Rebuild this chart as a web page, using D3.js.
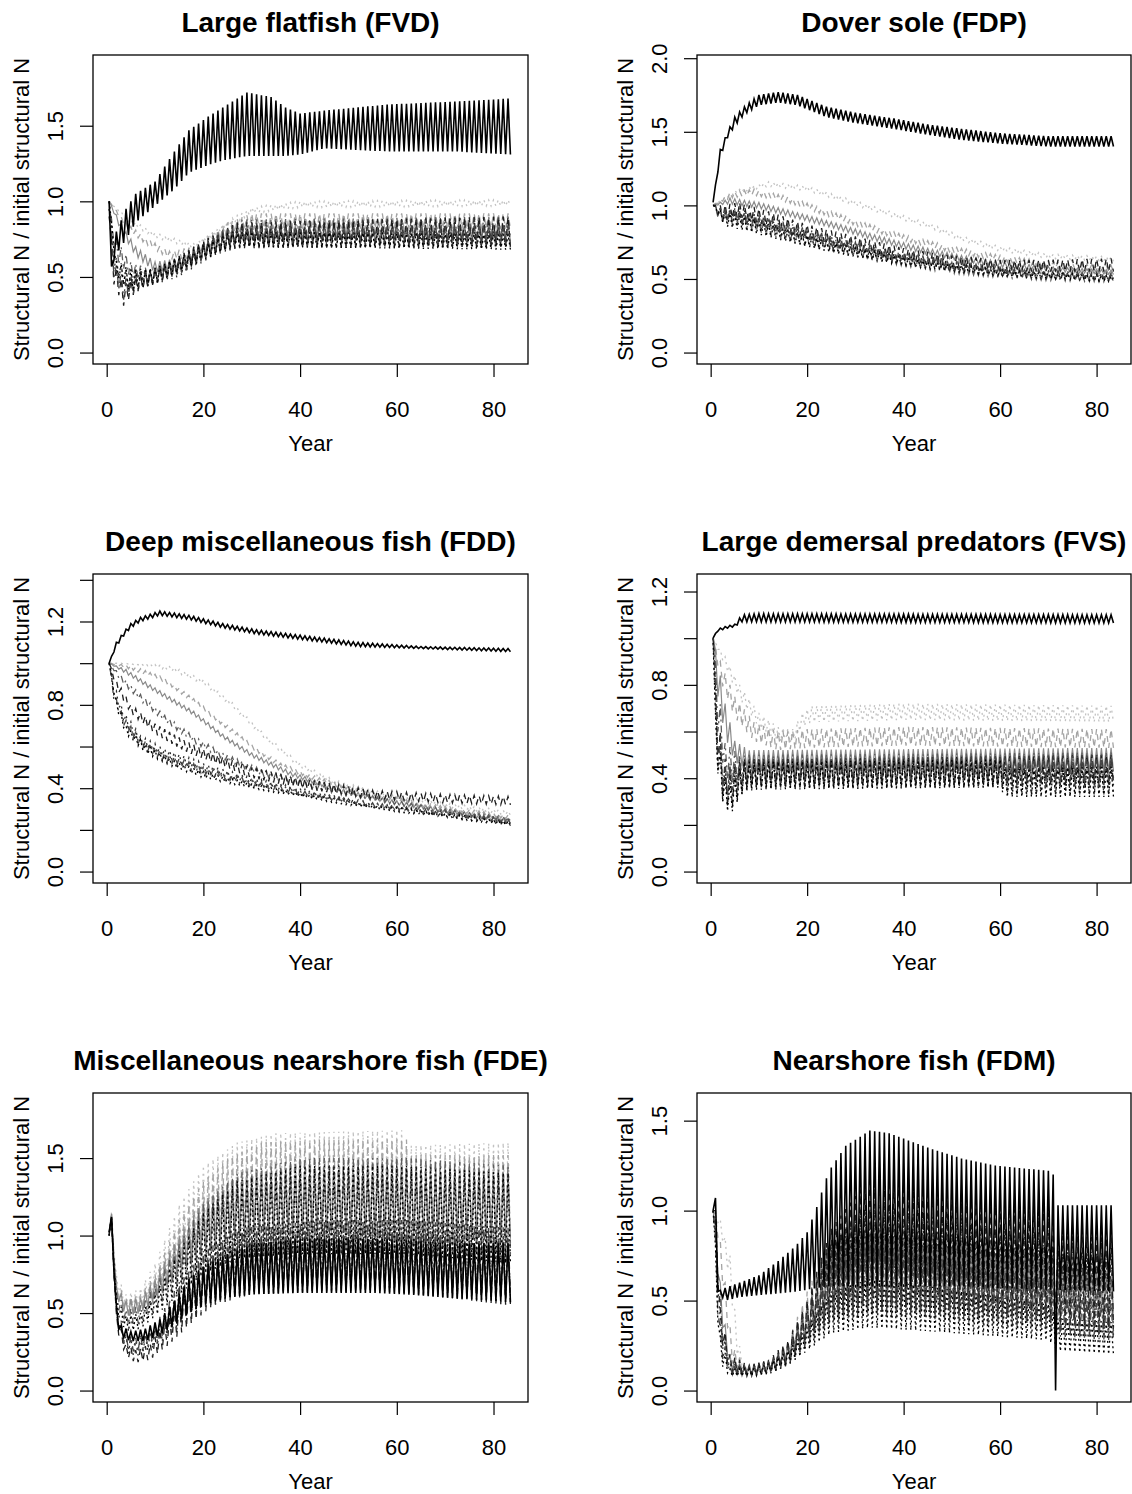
<!DOCTYPE html>
<html>
<head>
<meta charset="utf-8">
<script src="https://cdn.jsdelivr.net/npm/d3@7"></script>
<style>
  body { margin: 0; background: #fff; }
  svg { display: block; }
  text { font-family: "Liberation Sans", Arial, Helvetica, sans-serif; fill: #000; }
</style>
</head>
<body>
<svg id="chart" width="1132" height="1494"></svg>
<script>
// ---------------------------------------------------------------------------
// Data: structural N relative to initial structural N, per functional group.
// Each run is a list of [year, seasonal trough, seasonal peak] read at key
// years; runs are listed in the order of runStyles below
// (base run first, then the fishing scenarios).
// ---------------------------------------------------------------------------
const groupTitles = [
  "Large flatfish (FVD)",
  "Dover sole (FDP)",
  "Deep miscellaneous fish (FDD)",
  "Large demersal predators (FVS)",
  "Miscellaneous nearshore fish (FDE)",
  "Nearshore fish (FDM)"
];

const xLimits = [0.5, 83.8];
const xTickValues = [0, 20, 40, 60, 80];
const yUpperLimits = [1.892, 1.944, 1.373, 1.226, 1.846, 1.590];
const yTickValues = [
  [0, 0.5, 1.0, 1.5],
  [0, 0.5, 1.0, 1.5, 2.0],
  [0, 0.2, 0.4, 0.6, 0.8, 1.0, 1.2, 1.4],
  [0, 0.2, 0.4, 0.6, 0.8, 1.0, 1.2],
  [0, 0.5, 1.0, 1.5],
  [0, 0.5, 1.0, 1.5]
];
const yTickLabelled = [
  [0, 0.5, 1.0, 1.5],
  [0, 0.5, 1.0, 1.5, 2.0],
  [0, 0.4, 0.8, 1.2],
  [0, 0.4, 0.8, 1.2],
  [0, 0.5, 1.0, 1.5],
  [0, 0.5, 1.0, 1.5]
];
const xTitle = "Year";
const yTitle = "Structural N / initial structural N";

// Large flatfish (FVD)
const fvdRuns = [
  [[0.5,1.0,1.0],[1,0.57,0.57],[2,0.65,0.8],[4,0.75,0.95],[6,0.86,1.05],[10,0.97,1.13],[14,1.08,1.33],[17,1.19,1.47],[21,1.24,1.56],[24,1.27,1.62],[29,1.3,1.72],[34,1.3,1.69],[37,1.3,1.62],[40,1.31,1.58],[45,1.35,1.6],[58,1.33,1.64],[72,1.33,1.66],[83.5,1.31,1.68]],
  [[0.5,1,1],[5,0.85,0.88],[10,0.76,0.79],[18,0.69,0.72],[25,0.83,0.87],[30,0.92,0.96],[40,0.96,1.0],[83.5,0.97,1.01]],
  [[0.5,1,1],[4,0.82,0.86],[8,0.72,0.76],[13,0.62,0.67],[18,0.62,0.7],[25,0.78,0.86],[30,0.82,0.92],[83.5,0.82,0.92]],
  [[0.5,1,1],[3,0.8,0.85],[6,0.64,0.7],[10,0.53,0.6],[14,0.55,0.62],[20,0.62,0.72],[28,0.74,0.84],[83.5,0.74,0.84]],
  [[0.5,0.95,0.95],[2,0.6,0.75],[5,0.5,0.6],[9,0.46,0.55],[15,0.52,0.62],[22,0.66,0.78],[28,0.74,0.88],[83.5,0.76,0.9]],
  [[0.5,0.9,0.9],[1.5,0.45,0.6],[3.5,0.31,0.45],[6,0.4,0.5],[12,0.48,0.58],[20,0.62,0.74],[27,0.69,0.86],[83.5,0.7,0.9]],
  [[0.5,1,1],[1.5,0.55,0.65],[4,0.42,0.55],[8,0.43,0.55],[15,0.5,0.6],[22,0.64,0.76],[28,0.7,0.8],[83.5,0.7,0.8]],
  [[0.5,0.95,0.95],[1.5,0.5,0.6],[3.5,0.35,0.5],[7,0.42,0.52],[15,0.52,0.62],[25,0.7,0.82],[83.5,0.72,0.84]],
  [[0.5,1,1],[2,0.5,0.6],[5,0.4,0.55],[10,0.46,0.56],[18,0.58,0.68],[26,0.7,0.8],[83.5,0.68,0.78]]
];

// Dover sole (FDP)
const fdpRuns = [
  [[0.5,1.02,1.02],[2,1.33,1.38],[3.5,1.46,1.5],[5,1.54,1.6],[7,1.62,1.67],[10,1.68,1.75],[14,1.7,1.77],[18,1.68,1.75],[24,1.6,1.67],[30,1.56,1.63],[38,1.52,1.59],[45,1.48,1.55],[52,1.445,1.52],[60,1.42,1.49],[70,1.4,1.47],[83.5,1.4,1.47]],
  [[0.5,1.0,1.0],[5,1.08,1.1],[12,1.13,1.16],[20,1.1,1.13],[30,1.0,1.03],[38,0.92,0.95],[46,0.84,0.87],[52,0.76,0.79],[60,0.69,0.72],[70,0.64,0.67],[83.5,0.62,0.65]],
  [[0.5,1,1],[4,1.05,1.09],[9,1.07,1.11],[16,1.02,1.06],[24,0.93,0.97],[32,0.84,0.88],[40,0.76,0.8],[50,0.68,0.72],[60,0.62,0.66],[70,0.58,0.62],[83.5,0.55,0.59]],
  [[0.5,1,1],[4,1.01,1.05],[10,0.98,1.02],[18,0.91,0.95],[26,0.84,0.88],[34,0.76,0.8],[42,0.69,0.73],[52,0.62,0.66],[62,0.57,0.61],[72,0.55,0.58],[83.5,0.53,0.56]],
  [[0.5,1,1],[2,0.88,0.98],[6,0.86,0.96],[12,0.8,0.88],[20,0.72,0.8],[30,0.65,0.72],[40,0.59,0.65],[50,0.54,0.6],[60,0.51,0.56],[70,0.49,0.54],[83.5,0.48,0.53]],
  [[0.5,1,1],[2,0.9,1.0],[6,0.92,1.02],[12,0.86,0.96],[20,0.78,0.87],[30,0.7,0.79],[40,0.63,0.71],[50,0.58,0.66],[60,0.55,0.63],[70,0.55,0.63],[83.5,0.55,0.64]],
  [[0.5,1,1],[2,0.9,0.98],[6,0.88,0.98],[12,0.82,0.9],[20,0.74,0.82],[30,0.66,0.73],[40,0.6,0.66],[50,0.55,0.61],[60,0.52,0.57],[70,0.5,0.55],[83.5,0.49,0.54]],
  [[0.5,1,1],[2,0.9,0.98],[6,0.88,0.96],[12,0.84,0.92],[20,0.77,0.84],[30,0.69,0.75],[40,0.62,0.68],[50,0.57,0.62],[60,0.54,0.58],[70,0.52,0.56],[83.5,0.5,0.54]],
  [[0.5,1,1],[3,0.86,0.95],[8,0.82,0.92],[15,0.76,0.84],[25,0.68,0.75],[35,0.62,0.68],[45,0.57,0.62],[60,0.52,0.56],[83.5,0.48,0.52]]
];

// Deep miscellaneous fish (FDD)
const fddRuns = [
  [[0.5,1,1],[2,1.08,1.1],[3.5,1.13,1.15],[5,1.17,1.19],[7,1.2,1.22],[11,1.23,1.25],[17,1.21,1.23],[24,1.17,1.19],[31,1.14,1.16],[38,1.12,1.14],[45,1.1,1.12],[52,1.08,1.1],[65,1.07,1.08],[83.5,1.055,1.07]],
  [[0.5,1,1],[8,0.99,1.0],[14,0.96,0.98],[20,0.9,0.92],[26,0.79,0.81],[33,0.63,0.65],[40,0.5,0.52],[47,0.42,0.44],[57,0.36,0.38],[70,0.31,0.33],[83.5,0.27,0.29]],
  [[0.5,1,1],[5,0.97,0.99],[12,0.91,0.93],[18,0.81,0.83],[24,0.7,0.72],[30,0.59,0.61],[36,0.5,0.52],[44,0.43,0.45],[52,0.38,0.4],[65,0.31,0.33],[83.5,0.25,0.27]],
  [[0.5,1,1],[4,0.95,0.97],[8,0.89,0.91],[13,0.82,0.84],[18,0.75,0.77],[24,0.64,0.66],[30,0.55,0.57],[38,0.46,0.48],[48,0.38,0.4],[60,0.32,0.34],[83.5,0.23,0.25]],
  [[0.5,1,1],[3,0.91,0.94],[7,0.82,0.85],[12,0.72,0.75],[18,0.62,0.65],[24,0.54,0.57],[32,0.46,0.49],[42,0.4,0.43],[55,0.34,0.36],[70,0.28,0.3],[83.5,0.24,0.26]],
  [[0.5,1,1],[2,0.88,0.92],[5,0.76,0.8],[10,0.66,0.71],[16,0.58,0.63],[22,0.52,0.57],[30,0.45,0.5],[40,0.4,0.45],[55,0.35,0.39],[70,0.33,0.37],[83.5,0.32,0.36]],
  [[0.5,1,1],[1.5,0.85,0.9],[3.5,0.72,0.77],[7,0.61,0.65],[12,0.55,0.59],[20,0.48,0.52],[30,0.42,0.45],[42,0.36,0.39],[55,0.31,0.33],[70,0.26,0.28],[83.5,0.22,0.24]],
  [[0.5,1,1],[1.5,0.82,0.86],[3.5,0.7,0.74],[7,0.6,0.64],[12,0.53,0.57],[20,0.47,0.5],[30,0.41,0.44],[42,0.36,0.38],[55,0.31,0.33],[70,0.27,0.29],[83.5,0.23,0.25]],
  [[0.5,1,1],[2,0.78,0.82],[4,0.66,0.7],[8,0.57,0.61],[14,0.5,0.53],[20,0.45,0.48],[30,0.4,0.42],[42,0.35,0.37],[55,0.3,0.32],[70,0.26,0.28],[83.5,0.22,0.24]]
];

// Large demersal predators (FVS)
const fvsRuns = [
  [[0.5,1.0,1.0],[1.5,1.03,1.04],[3,1.04,1.05],[5,1.05,1.06],[6.5,1.07,1.1],[10,1.07,1.105],[83.5,1.065,1.1]],
  [[0.5,1,1],[3,0.88,0.92],[6,0.74,0.8],[10,0.62,0.68],[14,0.56,0.62],[17,0.55,0.61],[19,0.62,0.68],[21,0.64,0.71],[40,0.65,0.72],[83.5,0.64,0.71]],
  [[0.5,1,1],[2,0.82,0.9],[5,0.66,0.75],[9,0.56,0.64],[14,0.52,0.6],[20,0.53,0.61],[40,0.54,0.62],[83.5,0.53,0.61]],
  [[0.5,1,1],[1.5,0.75,0.9],[3,0.58,0.72],[5,0.47,0.56],[8,0.43,0.52],[83.5,0.43,0.53]],
  [[0.5,1,1],[1.5,0.6,0.8],[3,0.4,0.55],[6,0.38,0.5],[83.5,0.4,0.51]],
  [[0.5,1,1],[1,0.55,0.8],[2.5,0.32,0.5],[4,0.26,0.45],[7,0.36,0.48],[83.5,0.37,0.5]],
  [[0.5,1,1],[1,0.5,0.7],[2.5,0.3,0.45],[5,0.32,0.44],[10,0.36,0.48],[60,0.36,0.47],[62,0.33,0.45],[83.5,0.33,0.45]],
  [[0.5,1,1],[1.5,0.45,0.65],[3,0.32,0.45],[6,0.38,0.48],[83.5,0.39,0.5]],
  [[0.5,0.98,0.98],[1,0.48,0.68],[2.5,0.3,0.42],[4,0.24,0.38],[7,0.35,0.47],[60,0.36,0.48],[61,0.32,0.44],[83.5,0.32,0.45]]
];

// Miscellaneous nearshore fish (FDE)
const fdeRuns = [
  [[0.5,1.02,1.02],[1,1.1,1.12],[2,0.45,0.55],[3,0.34,0.42],[5,0.32,0.38],[8,0.32,0.4],[11,0.36,0.46],[14,0.42,0.58],[17,0.5,0.72],[20,0.55,0.8],[25,0.6,0.88],[30,0.62,0.94],[40,0.63,0.98],[55,0.63,0.98],[62,0.62,0.97],[70,0.6,0.95],[83.5,0.57,0.95]],
  [[0.5,1.02,1.02],[1,1.12,1.15],[2,0.65,0.75],[4,0.52,0.62],[7,0.55,0.66],[10,0.65,0.82],[15,0.85,1.2],[20,0.95,1.45],[27,1.02,1.6],[35,1.05,1.66],[61,1.05,1.68],[62,1.0,1.58],[83.5,1.0,1.6]],
  [[0.5,1.02,1.02],[1,1.12,1.15],[2,0.6,0.7],[4,0.5,0.6],[7,0.52,0.62],[10,0.6,0.75],[15,0.78,1.1],[20,0.9,1.35],[25,0.98,1.5],[32,1.0,1.6],[45,1.0,1.62],[62,1.0,1.62],[63,0.95,1.52],[83.5,0.95,1.52]],
  [[0.5,1.02,1.02],[1,1.12,1.14],[2,0.6,0.68],[4,0.48,0.58],[7,0.5,0.6],[10,0.58,0.72],[15,0.75,1.0],[20,0.88,1.22],[26,0.98,1.35],[35,1.02,1.4],[62,1.0,1.4],[83.5,0.98,1.38]],
  [[0.5,1.02,1.02],[1,1.1,1.12],[2,0.55,0.65],[4,0.42,0.52],[7,0.44,0.55],[10,0.52,0.68],[15,0.68,0.95],[20,0.8,1.2],[27,0.88,1.4],[40,0.9,1.5],[62,0.9,1.5],[83.5,0.88,1.45]],
  [[0.5,1.0,1.0],[1,1.1,1.12],[2,0.4,0.5],[4,0.22,0.3],[6,0.18,0.26],[9,0.2,0.3],[13,0.3,0.48],[17,0.42,0.7],[22,0.55,0.88],[30,0.62,0.98],[45,0.64,1.0],[62,0.63,0.98],[83.5,0.55,0.95]],
  [[0.5,1,1],[1,1.08,1.1],[2,0.45,0.55],[4,0.25,0.35],[6,0.22,0.32],[10,0.28,0.4],[15,0.4,0.62],[20,0.52,0.82],[28,0.64,1.02],[45,0.68,1.05],[62,0.66,1.05],[83.5,0.6,1.0]],
  [[0.5,1,1],[1,1.1,1.12],[2,0.42,0.52],[4,0.27,0.36],[6,0.25,0.34],[10,0.3,0.42],[15,0.45,0.7],[20,0.56,0.9],[28,0.65,1.05],[45,0.68,1.1],[62,0.66,1.1],[83.5,0.62,1.05]],
  [[0.5,1,1],[1,1.1,1.12],[2,0.5,0.6],[4,0.38,0.48],[7,0.4,0.5],[10,0.48,0.62],[15,0.62,0.9],[20,0.75,1.15],[27,0.85,1.35],[40,0.88,1.45],[62,0.88,1.45],[83.5,0.82,1.4]]
];

// Nearshore fish (FDM)
const fdmRuns = [
  [[0.5,1.0,1.0],[1,1.07,1.07],[1.5,0.55,0.55],[3,0.5,0.57],[6,0.52,0.6],[10,0.53,0.64],[14,0.54,0.72],[17.5,0.55,0.8],[20,0.56,0.88],[22,0.57,1.02],[24.5,0.58,1.22],[28,0.58,1.36],[33,0.58,1.445],[37,0.58,1.43],[45,0.58,1.35],[52,0.58,1.29],[59,0.57,1.25],[70.5,0.56,1.22],[71,0.56,1.2],[71.5,0,0],[72,0.56,1.03],[83.5,0.55,1.03]],
  [[0.5,1,1],[2,0.9,0.95],[4,0.6,0.75],[5.5,0.2,0.3],[7,0.1,0.14],[12,0.1,0.16],[16,0.15,0.25],[20,0.3,0.5],[25,0.45,0.8],[33,0.5,0.92],[45,0.48,0.85],[60,0.45,0.78],[70,0.44,0.72],[83.5,0.4,0.62]],
  [[0.5,1,1],[1.5,0.85,0.95],[3,0.45,0.6],[4.5,0.15,0.25],[7,0.09,0.14],[12,0.1,0.16],[16,0.16,0.27],[20,0.3,0.55],[25,0.45,0.85],[33,0.5,0.95],[45,0.48,0.88],[60,0.47,0.8],[70,0.46,0.75],[83.5,0.42,0.65]],
  [[0.5,1,1],[1,0.8,0.9],[2.5,0.35,0.45],[4,0.12,0.2],[7,0.09,0.13],[12,0.1,0.16],[16,0.16,0.26],[20,0.3,0.5],[25,0.45,0.78],[33,0.52,0.88],[45,0.5,0.82],[60,0.48,0.76],[70,0.47,0.72],[83.5,0.45,0.62]],
  [[0.5,1,1],[1,0.7,0.85],[2.5,0.25,0.4],[4,0.1,0.16],[7,0.08,0.12],[12,0.09,0.15],[16,0.14,0.24],[20,0.28,0.45],[25,0.4,0.7],[33,0.45,0.82],[50,0.42,0.72],[70,0.38,0.62],[83.5,0.33,0.55]],
  [[0.5,1,1],[1,0.9,1.0],[2,0.3,0.45],[4,0.1,0.2],[8,0.09,0.14],[12,0.1,0.17],[16,0.15,0.28],[20,0.28,0.5],[25,0.42,0.9],[33,0.48,1.19],[45,0.45,1.12],[60,0.42,1.02],[70,0.4,0.99],[71.5,0.38,0.86],[83.5,0.35,0.85]],
  [[0.5,1,1],[1,0.85,0.95],[2,0.28,0.4],[4,0.09,0.16],[8,0.08,0.13],[12,0.1,0.16],[16,0.14,0.26],[20,0.26,0.46],[25,0.4,0.8],[33,0.46,1.03],[45,0.44,0.97],[60,0.4,0.9],[70,0.38,0.86],[71.5,0.33,0.77],[83.5,0.3,0.77]],
  [[0.5,1,1],[1,0.65,0.85],[2,0.2,0.35],[4,0.09,0.14],[8,0.08,0.13],[12,0.1,0.16],[16,0.15,0.25],[20,0.25,0.42],[25,0.38,0.68],[33,0.42,0.8],[45,0.4,0.72],[60,0.36,0.65],[70,0.34,0.6],[72,0.3,0.52],[83.5,0.28,0.48]],
  [[0.5,1,1],[1,0.6,0.8],[2,0.15,0.3],[4,0.08,0.12],[8,0.08,0.12],[12,0.09,0.15],[16,0.14,0.22],[20,0.22,0.35],[25,0.32,0.55],[33,0.35,0.62],[45,0.33,0.58],[60,0.3,0.52],[70,0.28,0.48],[72,0.22,0.4],[83.5,0.2,0.38]]
];

const groupRuns = [fvdRuns, fdpRuns, fddRuns, fvsRuns, fdeRuns, fdmRuns];

// Output is written every half year; the series swings between the seasonal
// trough and peak on alternate records.
const recordYears = d3.range(1, 168).map(i => i / 2);

// ---------------------------------------------------------------------------
// Styles and layout
// ---------------------------------------------------------------------------
const runStyles = [
  { color: "#000000", dash: null, width: 1.6 },       // base run
  { color: "#c2c2c2", dash: "2,4", width: 1.3 },
  { color: "#a4a4a4", dash: "6,5", width: 1.3 },
  { color: "#8a8a8a", dash: null, width: 1.2 },
  { color: "#5e5e5e", dash: "2,4,7,4", width: 1.3 },
  { color: "#1e1e1e", dash: "6,5", width: 1.3 },
  { color: "#2e2e2e", dash: "2,4", width: 1.3 },
  { color: "#444444", dash: "2,4,7,4", width: 1.3 },
  { color: "#000000", dash: "2,3", width: 1.3 }
];

const colLeft = [93, 697];
const colWidth = [435, 434];
const rowTop = [55, 574, 1093];
const plotHeight = 309;
const tickLen = 13;
const fontSize = 22;
const titleSize = 28;

const svg = d3.select("#chart");
svg.append("rect").attr("width", 1132).attr("height", 1494).attr("fill", "#fff");

function expand(lo, hi) {
  const pad = (hi - lo) * 0.04;
  return [lo - pad, hi + pad];
}

function runSeries(ctrl) {
  const years = ctrl.map(c => c[0]);
  const trough = d3.scaleLinear().domain(years).range(ctrl.map(c => c[1])).clamp(true);
  const peak = d3.scaleLinear().domain(years).range(ctrl.map(c => c[2])).clamp(true);
  return recordYears.map((yr, k) => [yr, k % 2 ? peak(yr) : trough(yr)]);
}

groupRuns.forEach((runs, p) => {
  const col = p % 2, row = Math.floor(p / 2);
  const x0 = colLeft[col], x1 = x0 + colWidth[col];
  const y0 = rowTop[row], y1 = y0 + plotHeight;

  const x = d3.scaleLinear().domain(expand(xLimits[0], xLimits[1])).range([x0, x1]);
  const y = d3.scaleLinear().domain(expand(0, yUpperLimits[p])).range([y1, y0]);

  const g = svg.append("g");

  const clipId = "clip" + p;
  g.append("clipPath").attr("id", clipId)
    .append("rect").attr("x", x0).attr("y", y0).attr("width", x1 - x0).attr("height", y1 - y0);

  const line = d3.line().x(d => x(d[0])).y(d => y(d[1]));
  const plotG = g.append("g").attr("clip-path", `url(#${clipId})`);

  // scenarios first, base run on top
  const order = d3.range(1, runs.length).concat([0]);
  order.forEach(i => {
    const st = runStyles[i];
    plotG.append("path")
      .datum(runSeries(runs[i]))
      .attr("d", line)
      .attr("fill", "none")
      .attr("stroke", st.color)
      .attr("stroke-width", st.width)
      .attr("stroke-dasharray", st.dash)
      .attr("stroke-linejoin", "miter");
  });

  // frame
  g.append("rect")
    .attr("x", x0).attr("y", y0).attr("width", x1 - x0).attr("height", y1 - y0)
    .attr("fill", "none").attr("stroke", "#000").attr("stroke-width", 1.3);

  // y axis
  const labelled = new Set(yTickLabelled[p].map(v => v.toFixed(1)));
  const yAxis = d3.axisLeft(y)
    .tickValues(yTickValues[p])
    .tickSize(tickLen)
    .tickFormat(v => labelled.has(v.toFixed(1)) ? d3.format(".1f")(v) : "");
  const ya = g.append("g").attr("transform", `translate(${x0},0)`).call(yAxis);
  ya.select(".domain").remove();
  ya.selectAll(".tick line").attr("stroke", "#000").attr("stroke-width", 1.2);
  ya.selectAll(".tick text")
    .attr("transform", "rotate(-90)")
    .attr("x", 0).attr("y", -30).attr("dy", null)
    .attr("text-anchor", "middle")
    .style("font-size", fontSize + "px")
    .style("font-family", '"Liberation Sans", Arial, sans-serif')
    .attr("fill", "#000");

  // x axis
  const xAxis = d3.axisBottom(x).tickValues(xTickValues).tickSize(tickLen).tickFormat(d3.format("d"));
  const xa = g.append("g").attr("transform", `translate(0,${y1})`).call(xAxis);
  xa.select(".domain").remove();
  xa.selectAll(".tick line").attr("stroke", "#000").attr("stroke-width", 1.2);
  xa.selectAll(".tick text")
    .attr("y", 53).attr("dy", null)
    .style("font-size", fontSize + "px")
    .style("font-family", '"Liberation Sans", Arial, sans-serif')
    .attr("fill", "#000");

  // axis titles
  g.append("text")
    .attr("x", (x0 + x1) / 2).attr("y", y1 + 87)
    .attr("text-anchor", "middle")
    .style("font-size", fontSize + "px")
    .text(xTitle);

  g.append("text")
    .attr("transform", `translate(${x0 - 64},${(y0 + y1) / 2}) rotate(-90)`)
    .attr("text-anchor", "middle")
    .style("font-size", fontSize + "px")
    .text(yTitle);

  // panel title
  g.append("text")
    .attr("x", (x0 + x1) / 2).attr("y", y0 - 23)
    .attr("text-anchor", "middle")
    .style("font-size", titleSize + "px")
    .style("font-weight", "bold")
    .text(groupTitles[p]);
});
</script>
</body>
</html>
